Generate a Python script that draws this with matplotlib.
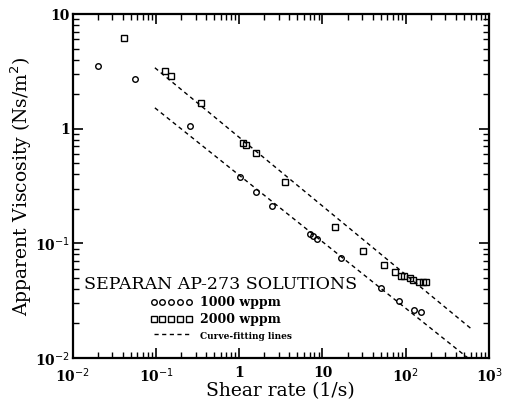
import math
import matplotlib
matplotlib.use('Agg')
import matplotlib.pyplot as plt
from matplotlib.ticker import FuncFormatter, LogLocator

# Dados (taxa de cisalhamento em 1/s, viscosidade em Ns/m2)
x_1000 = [0.020, 0.056, 0.255, 1.03, 1.61, 2.47, 7.0, 7.6, 8.5, 16.7, 50.5, 82.8, 126, 152]
y_1000 = [3.52, 2.71, 1.06, 0.377, 0.279, 0.213, 0.121, 0.116, 0.109, 0.0746, 0.0406, 0.0313, 0.0262, 0.0252]

x_2000 = [0.041, 0.128, 0.150, 0.352, 1.11, 1.22, 1.58, 3.52, 14.0, 30.4, 54.3, 75.3, 88.1,
          96.4, 111, 121, 146, 160, 176]
y_2000 = [6.17, 3.19, 2.88, 1.66, 0.755, 0.721, 0.611, 0.345, 0.138, 0.0863, 0.0644, 0.0566, 0.0523,
          0.0520, 0.0496, 0.048, 0.0463, 0.0458, 0.0456]

# Linhas de ajuste (pontos extremos)
fit_x = [0.097, 600]
fit_y_1000 = [1.52, 0.0096]
fit_y_2000 = [3.40, 0.0182]

plt.rcParams['font.family'] = 'DejaVu Serif'

fig = plt.figure(figsize=(5.06, 4.01), dpi=100)
ax = fig.add_axes([0.1437, 0.1072, 0.8227, 0.8578])

p1, = ax.plot(x_1000, y_1000, 'o', mfc='none', mec='black', ms=4, mew=1, label='1000 wppm')
p2, = ax.plot(x_2000, y_2000, 's', mfc='none', mec='black', ms=4, mew=1, label='2000 wppm')
l1, = ax.plot(fit_x, fit_y_1000, color='black', lw=1, dashes=(3, 2.5), label='Curve-fitting lines')
ax.plot(fit_x, fit_y_2000, color='black', lw=1, dashes=(3, 2.5))

ax.set_xscale('log')
ax.set_yscale('log')
ax.set_xlim(1e-2, 1e3)
ax.set_ylim(1e-2, 10)


def fmt(v, pos):
    e = int(round(math.log10(v)))
    if e == 0:
        return '1'
    if e == 1:
        return '10'
    return '10$^{%d}$' % e


ax.xaxis.set_major_formatter(FuncFormatter(fmt))
ax.yaxis.set_major_formatter(FuncFormatter(fmt))
ax.xaxis.set_minor_locator(LogLocator(subs=range(2, 10)))
ax.yaxis.set_minor_locator(LogLocator(subs=range(2, 10)))

ax.tick_params(which='both', direction='in', top=True, right=True, labelsize=10)
ax.tick_params(which='major', length=7, width=1.2)
ax.tick_params(which='minor', length=4, width=1)
ax.tick_params(axis='y', pad=2)
ax.tick_params(axis='x', pad=6)
for lab in ax.get_xticklabels() + ax.get_yticklabels():
    lab.set_fontweight('bold')
for s in ax.spines.values():
    s.set_linewidth(1.6)

ax.set_xlabel('Shear rate (1/s)', fontsize=13.5, labelpad=-2)
ax.set_ylabel('Apparent Viscosity (Ns/m$^2$)', fontsize=13.5, labelpad=1)

leg = ax.legend(handles=[p1, p2, l1], title='SEPARAN AP-273 SOLUTIONS', loc='upper center',
                bbox_to_anchor=(0.356, 0.258), frameon=False, numpoints=5, handlelength=3.4,
                fontsize=9, title_fontsize=12.5, borderpad=0, labelspacing=0.3, handletextpad=0.6)
for t in leg.get_texts():
    t.set_fontweight('bold')
leg.get_texts()[2].set_fontsize(6.5)

fig.savefig('out.png', dpi=100)
